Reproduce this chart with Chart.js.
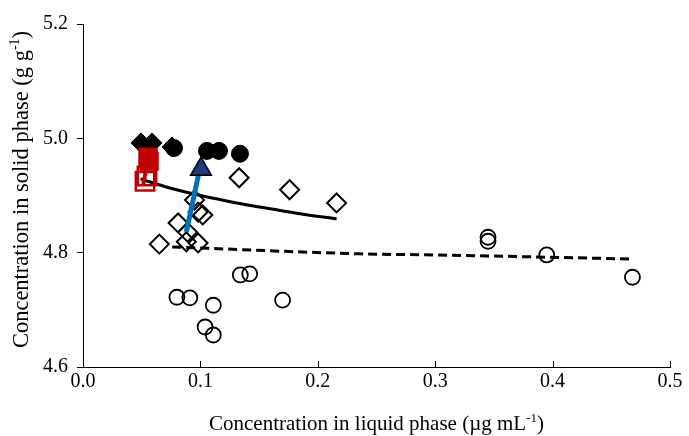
<!DOCTYPE html>
<html>
<head>
<meta charset="utf-8">
<script src="https://cdn.jsdelivr.net/npm/chart.js@4.4.1/dist/chart.umd.min.js"></script>
<style>
  html, body { margin: 0; padding: 0; background: #fff; }
  #wrap { width: 689px; height: 436px; }
</style>
</head>
<body>
<div id="wrap"><canvas id="c" width="689" height="436"></canvas></div>
<script>
// Sorption data: concentration in liquid phase (x) vs solid phase (y)
const openCircleX = [0.080, 0.091, 0.104, 0.111, 0.111, 0.134, 0.142, 0.170, 0.345, 0.345, 0.395, 0.468];
const openCircleY = [4.722, 4.721, 4.670, 4.708, 4.656, 4.761, 4.763, 4.717, 4.820, 4.827, 4.796, 4.757];

const openDiamondX = [0.065, 0.081, 0.089, 0.088, 0.098, 0.102, 0.098, 0.095, 0.133, 0.176, 0.216];
const openDiamondY = [4.815, 4.852, 4.836, 4.819, 4.817, 4.866, 4.871, 4.892, 4.931, 4.910, 4.887];

const filledDiamondX = [0.0494, 0.0588, 0.0758];
const filledDiamondY = [4.992, 4.992, 4.985];

const filledCircleX = [0.0775, 0.1056, 0.1158, 0.1337];
const filledCircleY = [4.983, 4.978, 4.978, 4.973];

const openSquareX = [0.0528, 0.0545];
const openSquareY = [4.925, 4.934];

const filledSquareX = [0.0554, 0.0562];
const filledSquareY = [4.967, 4.960];

const triangleX = [0.1005];
const triangleY = [4.946];

// Fitted isotherms
const solidFitX = [0.049, 0.074, 0.102, 0.131, 0.153, 0.182, 0.216];
const solidFitY = [4.929, 4.913, 4.899, 4.887, 4.879, 4.869, 4.859];

const dashedFitX = [0.076, 0.236, 0.300, 0.466];
const dashedFitY = [4.810, 4.798, 4.796, 4.789];

// Shift arrows
const blueArrowX = [0.0880, 0.1005];
const blueArrowY = [4.836, 4.957];
const redArrowX = [0.0511, 0.0545];
const redArrowY = [4.917, 4.953];

const xTicks = [0.0, 0.1, 0.2, 0.3, 0.4, 0.5];
const yTicks = [4.6, 4.8, 5.0, 5.2];

const pts = (xs, ys) => xs.map((x, i) => ({ x: x, y: ys[i] }));

const FONT = 'Liberation Serif, Times New Roman, serif';
const TICK_SIZE = 20;
const X_TITLE_SIZE = 21;
const Y_TITLE_SIZE = 22.5;

// Axis titles with superscript exponents
function drawRich(ctx, parts, size) {
  const supSize = Math.round(size * 0.62);
  let total = 0;
  parts.forEach(p => {
    ctx.font = (p.sup ? supSize : size) + 'px ' + FONT;
    p.w = ctx.measureText(p.t).width;
    total += p.w;
  });
  let x = -total / 2;
  parts.forEach(p => {
    ctx.font = (p.sup ? supSize : size) + 'px ' + FONT;
    ctx.fillText(p.t, x, p.sup ? -size * 0.38 : 0);
    x += p.w;
  });
}

const axisDecor = {
  id: 'axisDecor',
  afterDraw(chart) {
    const ctx = chart.ctx;
    const area = chart.chartArea;
    const xs = chart.scales.x;
    ctx.save();
    // x ticks point up into the plot
    ctx.strokeStyle = '#000';
    ctx.lineWidth = 1;
    xTicks.forEach(v => {
      const px = Math.round(xs.getPixelForValue(v)) + 0.5;
      ctx.beginPath();
      ctx.moveTo(px, area.bottom);
      ctx.lineTo(px, area.bottom - 6);
      ctx.stroke();
    });
    ctx.fillStyle = '#000';
    ctx.textBaseline = 'alphabetic';
    ctx.textAlign = 'left';
    // x title
    ctx.save();
    ctx.translate((area.left + area.right) / 2, 430);
    drawRich(ctx, [{ t: 'Concentration in liquid phase (\u00b5g mL' }, { t: '-1', sup: true }, { t: ')' }], X_TITLE_SIZE);
    ctx.restore();
    // y title
    ctx.save();
    ctx.translate(28, (area.top + area.bottom) / 2 - 6);
    ctx.rotate(-Math.PI / 2);
    drawRich(ctx, [{ t: 'Concentration in solid phase (g g' }, { t: '-1', sup: true }, { t: ')' }], Y_TITLE_SIZE);
    ctx.restore();
    ctx.restore();
  }
};

new Chart(document.getElementById('c'), {
  type: 'scatter',
  data: {
    datasets: [
      { data: pts(triangleX, triangleY), order: 1, pointStyle: 'triangle', pointRadius: 12,
        backgroundColor: '#1f3a78', borderColor: '#000', borderWidth: 1.5 },
      { data: pts(blueArrowX, blueArrowY), order: 2, showLine: true, pointRadius: 0,
        borderColor: '#0070c0', borderWidth: 5 },
      { data: pts(filledSquareX, filledSquareY), order: 3, pointStyle: 'rect', pointRadius: 13,
        backgroundColor: '#c00000', borderColor: '#c00000', borderWidth: 1 },
      { data: pts(redArrowX, redArrowY), order: 4, showLine: true, pointRadius: 0,
        borderColor: '#c00000', borderWidth: 4 },
      { data: pts(openSquareX, openSquareY), order: 5, pointStyle: 'rect', pointRadius: 13,
        backgroundColor: 'rgba(0,0,0,0)', borderColor: '#c00000', borderWidth: 2.5 },
      { data: pts(filledCircleX, filledCircleY), order: 6, pointStyle: 'circle', pointRadius: 8.5,
        backgroundColor: '#000', borderColor: '#000', borderWidth: 1 },
      { data: pts(filledDiamondX, filledDiamondY), order: 7, pointStyle: 'rectRot', pointRadius: 10,
        backgroundColor: '#000', borderColor: '#000', borderWidth: 1 },
      { data: pts(solidFitX, solidFitY), order: 8, showLine: true, pointRadius: 0,
        cubicInterpolationMode: 'monotone', borderColor: '#000', borderWidth: 3 },
      { data: pts(dashedFitX, dashedFitY), order: 9, showLine: true, pointRadius: 0,
        cubicInterpolationMode: 'monotone', borderColor: '#000', borderWidth: 3, borderDash: [9, 5] },
      { data: pts(openDiamondX, openDiamondY), order: 10, pointStyle: 'rectRot', pointRadius: 9.5,
        backgroundColor: 'rgba(0,0,0,0)', borderColor: '#000', borderWidth: 2 },
      { data: pts(openCircleX, openCircleY), order: 11, pointStyle: 'circle', pointRadius: 7.5,
        backgroundColor: 'rgba(0,0,0,0)', borderColor: '#000', borderWidth: 1.8 }
    ]
  },
  options: {
    responsive: false,
    animation: false,
    events: [],
    layout: { padding: { top: 24, right: 19, left: 0, bottom: 0 } },
    plugins: { legend: { display: false }, tooltip: { enabled: false } },
    scales: {
      x: {
        type: 'linear', min: 0, max: 0.5,
        afterBuildTicks: s => { s.ticks = xTicks.map(v => ({ value: v })); },
        afterFit: s => { s.height = 69; },
        ticks: { color: '#000', font: { family: FONT, size: TICK_SIZE }, padding: 3,
                 maxRotation: 0, callback: v => Number(v).toFixed(1) },
        grid: { display: true, drawOnChartArea: false, drawTicks: false, color: '#000' },
        border: { display: true, color: '#000', width: 1 }
      },
      y: {
        type: 'linear', min: 4.6, max: 5.2,
        afterBuildTicks: s => { s.ticks = yTicks.map(v => ({ value: v })); },
        afterFit: s => { s.width = 83; },
        ticks: { color: '#000', font: { family: FONT, size: TICK_SIZE }, padding: 9,
                 callback: v => Number(v).toFixed(1) },
        grid: { display: true, drawOnChartArea: false, drawTicks: true, tickLength: 6, color: '#000' },
        border: { display: true, color: '#000', width: 1 }
      }
    }
  },
  plugins: [axisDecor]
});
</script>
</body>
</html>
